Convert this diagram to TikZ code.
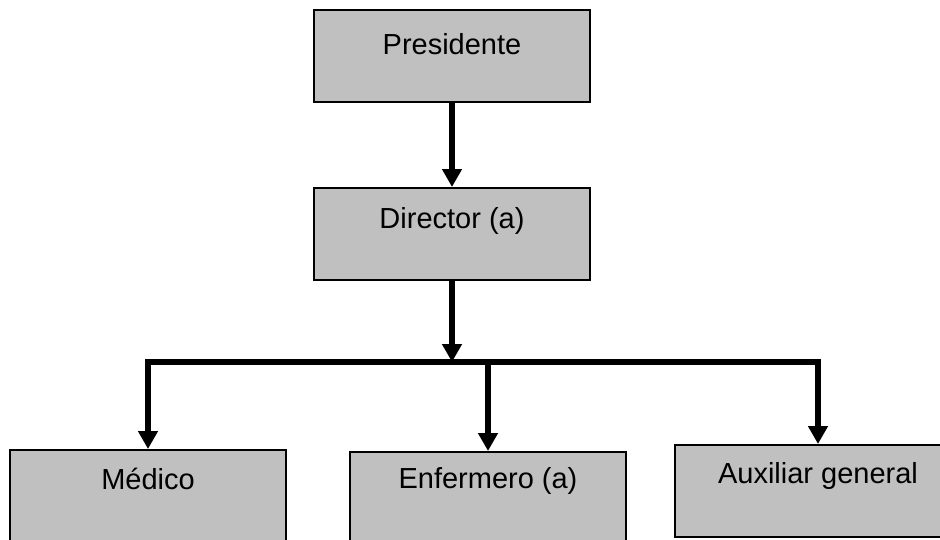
\documentclass[tikz,border=0pt]{standalone}
\usepackage{fontspec}
\setmainfont{Liberation Sans}
\usepackage{xcolor}
\usepackage{tikz}
\usetikzlibrary{arrows.meta,positioning}
\definecolor{boxgray}{HTML}{C0C0C0}

\begin{document}
\begin{tikzpicture}[x=1pt,y=-1pt,
    cargo/.style={draw, line width=2pt, fill=boxgray, anchor=north,
        inner xsep=0pt, inner ysep=0pt, minimum width=276pt,
        font=\fontsize{29}{33}\selectfont},
    link/.style={line width=5.5pt, -{Triangle[length=18pt,width=19pt]}}]
    % Frame
    \useasboundingbox (0,0) rectangle (940,539);
    \clip (0,0) rectangle (940,539);

    % Top levels
    \node[cargo, text height=44pt, text depth=48pt] (presidente) at (452,9) {Presidente};
    \node[cargo, text height=40pt, text depth=52pt, below=84pt of presidente] (director) {Director (a)};

    % Bottom level
    \node[cargo, text height=39pt, text depth=80pt] (medico) at (148,449) {Médico};
    \node[cargo, text height=36pt, text depth=80pt] (enfermero) at (488,451) {Enfermero (a)};
    \node[cargo, text height=38pt, text depth=54pt, minimum width=286pt] (auxiliar) at (818,444) {Auxiliar general};

    % Connectors
    \coordinate (bar) at (director.south |- 0,362);
    \draw[link] (presidente) -- (director);
    \draw[link] (director) -- (bar);
    \draw[link] (bar) -| (medico.north);
    \draw[link] (bar) -| (auxiliar.north);
    \draw[link] (enfermero.north |- bar) -- (enfermero.north);
\end{tikzpicture}
\end{document}
